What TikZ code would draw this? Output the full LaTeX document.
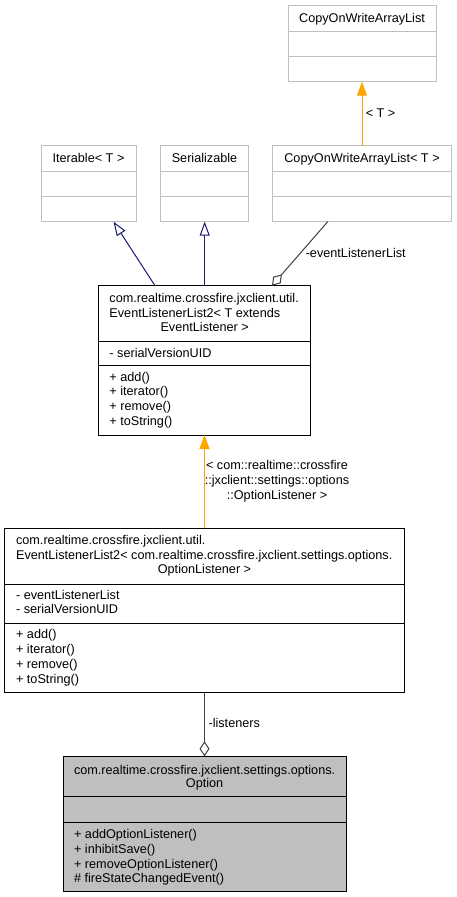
\documentclass[tikz,border=0pt]{standalone}
\usepackage{fontspec}
\setmainfont{Liberation Sans}
\usetikzlibrary{arrows.meta,calc}
\definecolor{grey75}{HTML}{BFBFBF}
\definecolor{grey25}{HTML}{404040}
\definecolor{midblue}{HTML}{191970}
\definecolor{dxorange}{HTML}{FFA500}
\begin{document}
\begin{tikzpicture}[x=0.75pt,y=-0.75pt,
  font=\fontsize{9.5}{11.1}\selectfont,
  cls/.style={draw=black, line width=0.75pt, inner sep=0pt, outer sep=0pt},
  ext/.style={draw=grey75, line width=0.75pt, inner sep=0pt, outer sep=0pt},
  sep/.style={draw=black, line width=0.75pt},
  gsep/.style={draw=grey75, line width=0.75pt},
  txt/.style={inner sep=0pt, anchor=base west},
  ctxt/.style={inner sep=0pt, anchor=base},
  lbl/.style={inner sep=0pt, anchor=west},
  inh/.style={draw=midblue, line width=0.75pt, -{Triangle[open, length=10.5pt, width=7.5pt]}},
  tmpl/.style={draw=dxorange, line width=0.75pt, -{Triangle[length=10.5pt, width=7.5pt]}},
  agg/.style={draw=grey25, line width=0.75pt, -{Diamond[open, length=11.25pt, width=7.5pt]}},
]
\useasboundingbox (0,0) rectangle (457,897);

% ---------- CopyOnWriteArrayList ----------
\node[ext, minimum width=111pt, minimum height=57pt] (cowal) at (362,43.7) {};
\draw[gsep] (cowal.west |- 0,31.7) -- (cowal.east |- 0,31.7);
\draw[gsep] (cowal.west |- 0,56.7) -- (cowal.east |- 0,56.7);
\node[ctxt] (cowalt) at (362,22) {CopyOnWriteArrayList};

% ---------- Iterable< T > ----------
\node[ext, minimum width=71.25pt, minimum height=57pt] (iter) at (88.5,183.7) {};
\draw[gsep] (iter.west |- 0,171.7) -- (iter.east |- 0,171.7);
\draw[gsep] (iter.west |- 0,196.7) -- (iter.east |- 0,196.7);
\node[ctxt] (itert) at (88.5,162) {Iterable< T >};

% ---------- Serializable ----------
\node[ext, minimum width=66.3pt, minimum height=57pt] (ser) at (204.5,183.7) {};
\draw[gsep] (ser.west |- 0,171.7) -- (ser.east |- 0,171.7);
\draw[gsep] (ser.west |- 0,196.7) -- (ser.east |- 0,196.7);
\node[ctxt] (sert) at (204.5,162) {Serializable};

% ---------- CopyOnWriteArrayList< T > ----------
\node[ext, minimum width=134.55pt, minimum height=57pt] (cowalT) at (362,183.7) {};
\draw[gsep] (cowalT.west |- 0,171.7) -- (cowalT.east |- 0,171.7);
\draw[gsep] (cowalT.west |- 0,196.7) -- (cowalT.east |- 0,196.7);
\node[ctxt] (cowalTt) at (362,162) {CopyOnWriteArrayList< T >};

% ---------- EventListenerList2< T extends EventListener > ----------
\node[cls, minimum width=159pt, minimum height=111.975pt] (ell2) at (204.7,360.35) {};
\draw[sep] (ell2.west |- 0,341) -- (ell2.east |- 0,341);
\draw[sep] (ell2.west |- 0,365.7) -- (ell2.east |- 0,365.7);
\node[txt] (ell2a) at (109.2,302.7) {com.realtime.crossfire.jxclient.util.};
\node[txt] (ell2b) at (109.2,317.1) {EventListenerList2< T extends};
\node[ctxt] (ell2c) at (204.7,331.5) {EventListener >};
\node[txt] (ell2d) at (109.2,357) {- serialVersionUID};
\node[txt] (ell2e) at (109.2,381) {+ add()};
\node[txt] (ell2f) at (109.2,395.9) {+ iterator()};
\node[txt] (ell2g) at (109.2,410.8) {+ remove()};
\node[txt] (ell2h) at (109.2,425.7) {+ toString()};

% ---------- EventListenerList2< OptionListener > ----------
\node[cls, minimum width=299.7pt, minimum height=123.3pt] (ell2opt) at (204.5,610.5) {};
\draw[sep] (ell2opt.west |- 0,584) -- (ell2opt.east |- 0,584);
\draw[sep] (ell2opt.west |- 0,623) -- (ell2opt.east |- 0,623);
\node[txt] (eoa) at (15.8,544.6) {com.realtime.crossfire.jxclient.util.};
\node[txt] (eob) at (15.8,559) {EventListenerList2< com.realtime.crossfire.jxclient.settings.options.};
\node[ctxt] (eoc) at (204.5,573.4) {OptionListener >};
\node[txt] (eod) at (15.8,599) {- eventListenerList};
\node[txt] (eoe) at (15.8,613.6) {- serialVersionUID};
\node[txt] (eof) at (15.8,638.6) {+ add()};
\node[txt] (eog) at (15.8,653.5) {+ iterator()};
\node[txt] (eoh) at (15.8,668.4) {+ remove()};
\node[txt] (eoi) at (15.8,683.3) {+ toString()};

% ---------- Option ----------
\node[cls, fill=grey75, minimum width=212.025pt, minimum height=101.025pt] (option) at (204.65,823.65) {};
\draw[sep] (option.west |- 0,796.7) -- (option.east |- 0,796.7);
\draw[sep] (option.west |- 0,822.3) -- (option.east |- 0,822.3);
\node[ctxt] (opa) at (204.6,774) {com.realtime.crossfire.jxclient.settings.options.};
\node[ctxt] (opb) at (204.6,787.6) {Option};
\node[txt] (opc) at (73.8,838.4) {+ addOptionListener()};
\node[txt] (opd) at (73.8,853.2) {+ inhibitSave()};
\node[txt] (ope) at (73.8,868) {+ removeOptionListener()};
\node[txt] (opf) at (73.8,882.8) {\# fireStateChangedEvent()};

% ---------- connectors ----------
\draw[tmpl] (cowalT.north) -- (cowalT.north |- cowal.south);
\node[lbl] (lblT) at (365.5,113) {< T >};

\draw[inh] ($(ell2.north west)+(56.3,0)$) -- ($(iter.south west)+(72.5,0)$);
\draw[inh] (ell2.north) -- (ell2.north |- ser.south);
\draw[agg] ($(cowalT.south west)+(55.4,0)$) -- ($(ell2.north west)+(173.3,0)$);
\node[lbl] (lblE) at (305.5,252.7) {-eventListenerList};

\draw[tmpl] (ell2opt.north) -- (ell2opt.north |- ell2.south);
\node[align=center, inner sep=0pt] (lblO) at (277,481) {< com::realtime::crossfire\\::jxclient::settings::options\\::OptionListener >};

\draw[agg] (ell2opt.south) -- (ell2opt.south |- option.north);
\node[lbl] (lblL) at (208.3,723.3) {-listeners};
\end{tikzpicture}
\end{document}
